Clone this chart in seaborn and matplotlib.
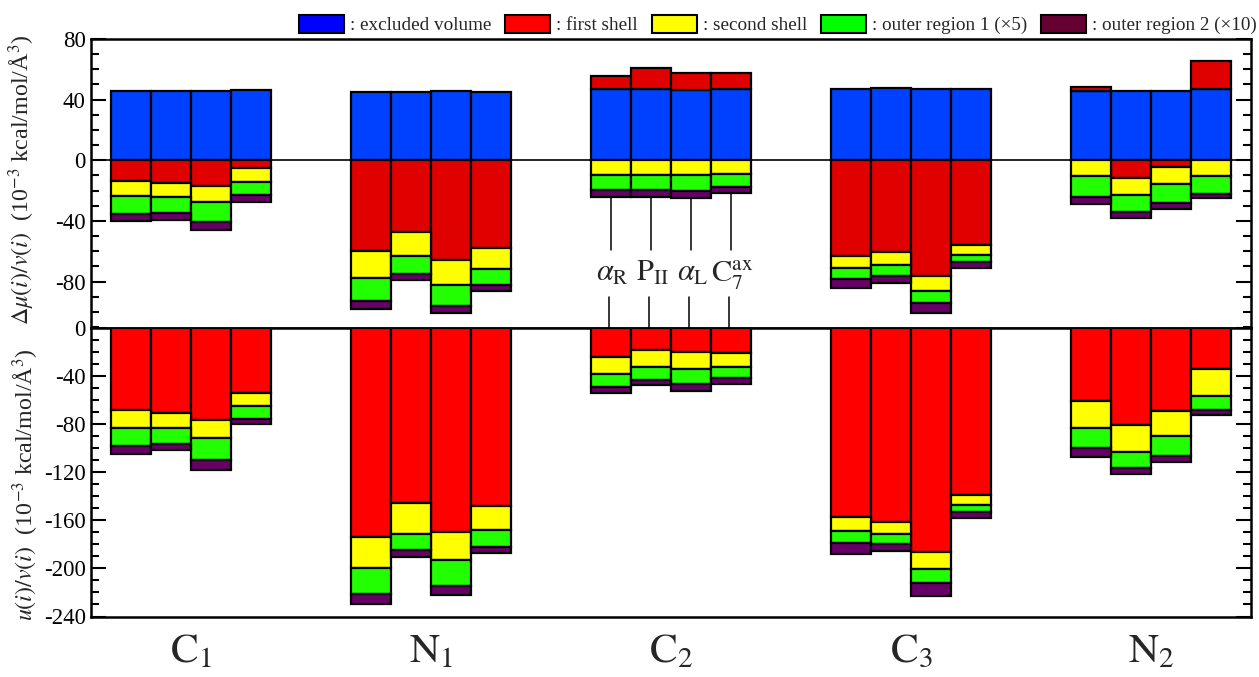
import numpy as np
import pandas as pd
import matplotlib
matplotlib.use("Agg")
import matplotlib.pyplot as plt
from matplotlib.patches import Patch
from matplotlib.ticker import MultipleLocator
import seaborn as sns

# ---------------------------------------------------------------- data
groups = [r"$\mathrm{C}_{1}$", r"$\mathrm{N}_{1}$", r"$\mathrm{C}_{2}$",
          r"$\mathrm{C}_{3}$", r"$\mathrm{N}_{2}$"]
conformers = [r"$\alpha_{\mathrm{R}}$", r"$\mathrm{P}_{\mathrm{II}}$",
              r"$\alpha_{\mathrm{L}}$", r"$\mathrm{C}_{7}^{\mathrm{ax}}$"]

# solvation free energy density, dmu(i)/v(i), 10^-3 kcal/mol/A^3
# (4 conformers per atom group, groups in the order above)
dmu_excluded = [46.0, 46.0, 46.0, 46.5, 45.2, 45.2, 45.4, 45.2, 46.7, 46.7,
                46.2, 46.7, 46.9, 47.6, 46.9, 46.9, 46.0, 45.6, 46.0, 46.9]
dmu_first = [-13.4, -15.1, -16.9, -5.0, -60.1, -47.1, -65.8, -57.6, 9.0, 14.2,
             11.2, 10.7, -62.9, -60.5, -76.5, -56.1, 2.2, -11.8, -4.6, 18.4]
dmu_second = [-10.3, -9.4, -10.7, -9.5, -17.7, -16.0, -16.2, -13.9, -9.6, -9.6,
              -9.6, -9.0, -8.3, -8.5, -9.4, -6.6, -10.5, -11.0, -10.7, -10.3]
dmu_outer1 = [-11.4, -10.1, -12.9, -8.7, -14.9, -11.6, -14.2, -10.9, -10.1, -10.1,
              -10.8, -8.5, -7.3, -7.1, -8.1, -4.6, -13.6, -11.6, -12.8, -11.6]
dmu_outer2 = [-5.2, -4.6, -5.5, -4.0, -5.5, -4.2, -4.8, -3.7, -4.2, -4.6,
              -4.6, -4.0, -5.7, -4.8, -7.0, -3.9, -4.8, -3.7, -4.1, -3.1]

# solute-solvent energy density, u(i)/v(i), 10^-3 kcal/mol/A^3
u_first = [-68.1, -70.6, -76.4, -53.7, -173.6, -145.9, -169.4, -148.4, -24.1, -18.0,
           -20.2, -20.5, -157.0, -161.1, -186.6, -139.2, -60.9, -80.8, -68.7, -33.8]
u_second = [-15.2, -12.7, -15.2, -11.6, -26.3, -25.2, -23.5, -19.9, -13.8, -14.4,
            -13.6, -12.2, -12.1, -10.2, -13.5, -7.8, -22.7, -22.2, -21.5, -22.4]
u_outer1 = [-15.2, -13.3, -18.0, -10.5, -21.6, -13.8, -21.6, -13.6, -11.4, -10.8,
            -12.4, -9.1, -9.4, -8.1, -11.7, -6.1, -16.3, -13.8, -16.1, -11.9]
u_outer2 = [-6.7, -5.3, -8.3, -4.2, -7.7, -5.3, -7.5, -5.0, -5.0, -4.4,
            -6.4, -4.4, -9.2, -6.3, -10.8, -5.2, -7.0, -5.0, -5.5, -3.9]

legend_labels = [": excluded volume", ": first shell", ": second shell",
                 ": outer region 1 (\u00d75)", ": outer region 2 (\u00d710)"]

# ---------------------------------------------------------------- style
sns.set_theme(style="white")
plt.rcParams["font.family"] = ["Liberation Serif", "DejaVu Serif"]
plt.rcParams["mathtext.fontset"] = "stix"
plt.rcParams["axes.unicode_minus"] = False

BLUE = "#0040FF"
RED_TOP = "#E00000"
RED_BOT = "#FF0000"
YELLOW = "#FFFF00"
GREEN = "#22FF00"
PURPLE = "#660066"
EDGE_LW = 1.6

n_per = len(conformers)
slot = n_per + 2
xpos = np.array([g * slot + k + 0.5 for g in range(len(groups)) for k in range(n_per)])
group_centers = [g * slot + n_per / 2 for g in range(len(groups))]

W, H = 1259, 677
fig = plt.figure(figsize=(W / 100, H / 100), dpi=100)
ax_top = fig.add_axes([91.3 / W, 1 - 328 / H, 1160 / W, 289 / H])
ax_bot = fig.add_axes([91.3 / W, 1 - 616.5 / H, 1160 / W, 288.5 / H])


def stacked(ax, components, colors):
    """Stack components per bar: positives upward, negatives downward."""
    pos = np.zeros(len(xpos))
    neg = np.zeros(len(xpos))
    for vals, col in zip(components, colors):
        vals = np.asarray(vals, dtype=float)
        base = np.where(vals >= 0, pos, neg)
        pos = pos + np.where(vals >= 0, vals, 0)
        neg = neg + np.where(vals < 0, vals, 0)
        keep = vals != 0
        df = pd.DataFrame({"x": xpos[keep], "height": vals[keep], "base": base[keep]})
        df = df.sort_values("x")
        sns.barplot(data=df, x="x", y="height", native_scale=True, width=1,
                    bottom=df["base"].to_numpy(), color=col, saturation=1,
                    errorbar=None, edgecolor="black", linewidth=EDGE_LW,
                    zorder=3, ax=ax)
    ax.set_xlabel("")
    ax.set_ylabel("")
    return neg


neg_top = stacked(ax_top, [dmu_excluded, dmu_first, dmu_second, dmu_outer1, dmu_outer2],
                  [BLUE, RED_TOP, YELLOW, GREEN, PURPLE])
stacked(ax_bot, [u_first, u_second, u_outer1, u_outer2],
        [RED_BOT, YELLOW, GREEN, PURPLE])

ax_top.axhline(0, color="black", lw=1.2, zorder=2)

# ---------------------------------------------------------------- axes
xlim = (-0.5, len(groups) * slot - 2 + 0.5)
for ax in (ax_top, ax_bot):
    ax.set_xlim(*xlim)
    ax.yaxis.set_major_locator(MultipleLocator(40))
    ax.yaxis.set_minor_locator(MultipleLocator(10))
    ax.tick_params(axis="y", which="both", direction="in", left=True, right=True,
                   width=1.5, labelsize=16.5, pad=4, colors="black")
    ax.tick_params(axis="y", which="major", length=11)
    ax.tick_params(axis="y", which="minor", length=6)
    for sp in ax.spines.values():
        sp.set_linewidth(1.8)
        sp.set_color("black")
        sp.set_visible(True)
    ax.set_facecolor("white")

ax_top.set_ylim(-110.6, 80)
ax_bot.set_ylim(-240, 0)
ax_top.set_xticks([])
ax_bot.set_xticks(group_centers)
ax_bot.set_xticklabels(groups, fontsize=30)
ax_bot.tick_params(axis="x", length=0, pad=12)

# ---------------------------------------------------------------- conformer labels for C2
c2 = groups.index(r"$\mathrm{C}_{2}$")
for k, lab in enumerate(conformers):
    i = c2 * n_per + k
    xc = xpos[i]
    ax_top.plot([xc, xc], [neg_top[i], -59.3], color="black", lw=1.1, zorder=4)
    ax_top.plot([xc - 0.07, xc - 0.07], [-90.2, -110.6], color="black", lw=1.1, zorder=4)
    ax_top.text(xc + 0.03, -79.6, lab, ha="center", va="baseline", fontsize=22)

# ---------------------------------------------------------------- axis titles
fig.text(22 / W, 1 - 180 / H,
         r"$\Delta\mu(i)/v(i)$  (10$^{-3}$ kcal/mol/Å$^{3}$)",
         rotation=90, ha="center", va="center", fontsize=17.3)
fig.text(26 / W, 1 - 485 / H,
         r"$u(i)/v(i)$  (10$^{-3}$ kcal/mol/Å$^{3}$)",
         rotation=90, ha="center", va="center", fontsize=17.3)

# ---------------------------------------------------------------- legend
legend_colors = ["#0000FF", "#FF0000", "#FFFF00", "#00FF00", "#660033"]
handles = [Patch(facecolor=c, edgecolor="black", linewidth=1.5) for c in legend_colors]
fig.legend(handles, legend_labels, loc="center right", ncol=5, frameon=False,
           bbox_to_anchor=(1257 / W, 1 - 24.5 / H), fontsize=13.8,
           handlelength=2.35, handleheight=1.1, handletextpad=0.31,
           columnspacing=0.73, borderpad=0, borderaxespad=0)

fig.savefig("out.png", dpi=100, facecolor="white")
